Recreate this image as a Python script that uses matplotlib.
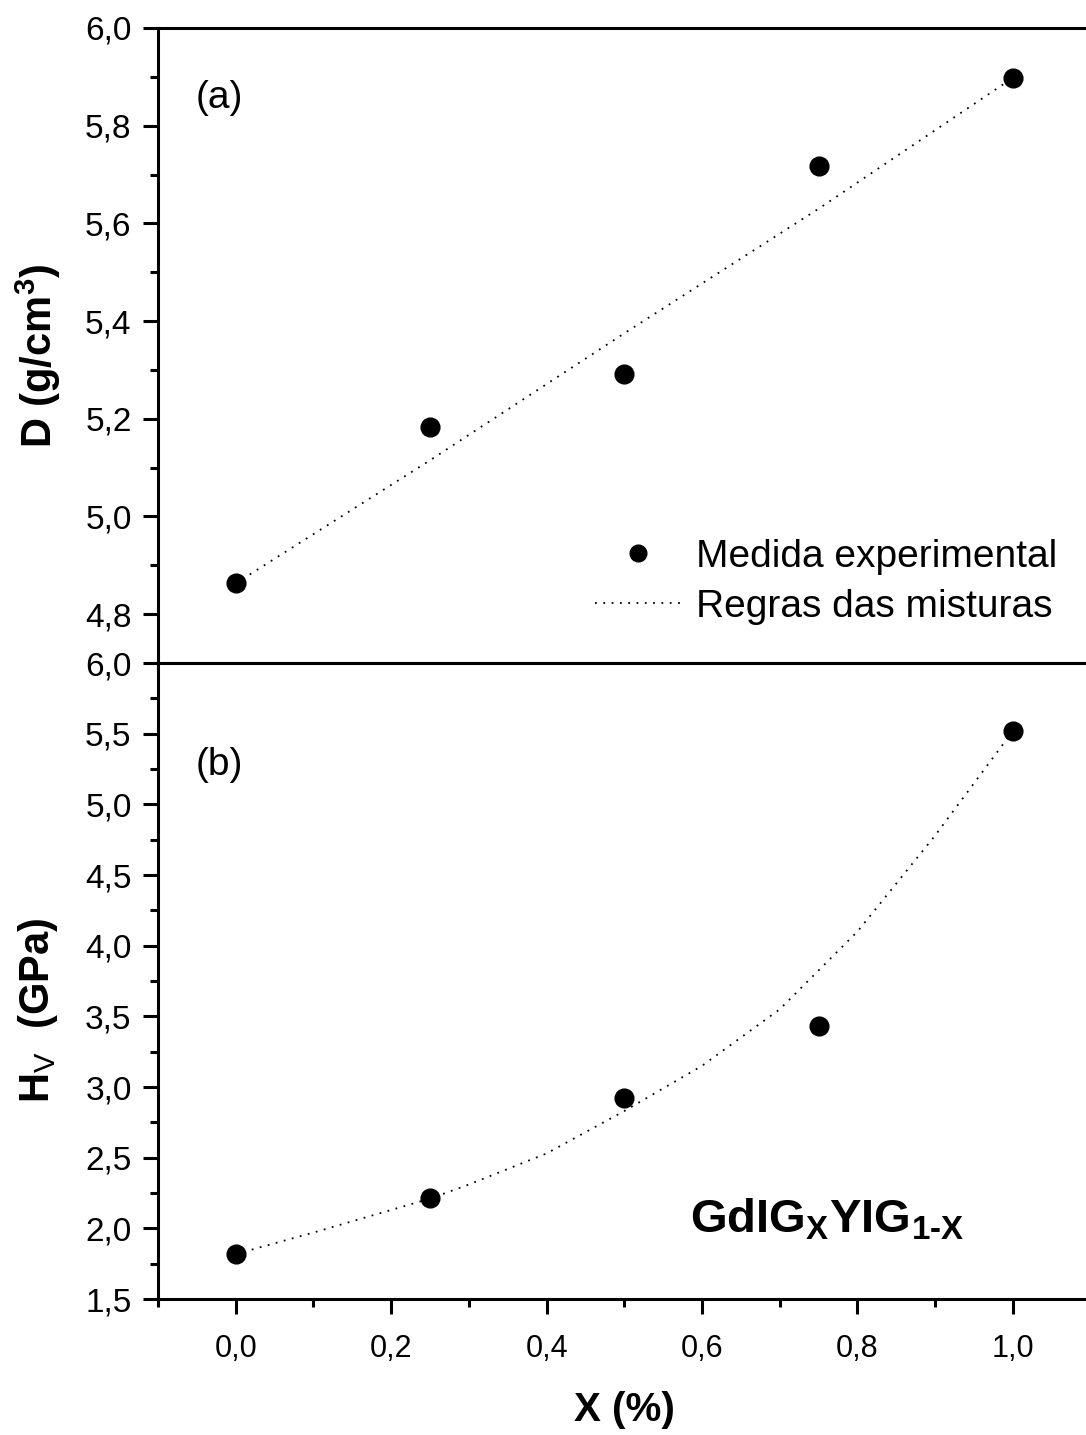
import numpy as np
import matplotlib
matplotlib.use('Agg')
import matplotlib.pyplot as plt
from matplotlib.ticker import MultipleLocator, FuncFormatter
from matplotlib.lines import Line2D

plt.rcParams['font.family'] = ['Liberation Sans', 'DejaVu Sans']
plt.rcParams['mathtext.fontset'] = 'custom'
plt.rcParams['mathtext.rm'] = 'Liberation Sans'
plt.rcParams['mathtext.bf'] = 'Liberation Sans:bold'
plt.rcParams['mathtext.it'] = 'Liberation Sans:italic'

# measured points
x_exp = [0.0, 0.25, 0.5, 0.75, 1.0]
dens_exp = [4.863, 5.183, 5.291, 5.717, 5.898]
hv_exp = [1.818, 2.215, 2.922, 3.432, 5.519]

# rule of mixtures curves
x_mix_d = [0.0, 0.25, 0.5, 0.75, 1.0]
dens_mix = [4.863, 5.115, 5.375, 5.63, 5.898]
x_mix_h = [0.0, 0.1, 0.2, 0.25, 0.3, 0.4, 0.5, 0.6, 0.7, 0.8, 0.9, 1.0]
hv_mix = [1.818, 1.97, 2.13, 2.21, 2.31, 2.53, 2.83, 3.15, 3.55, 4.10, 4.78, 5.519]

W, H = 1086, 1435
fig = plt.figure(figsize=(W / 100, H / 100), dpi=100)

left = 158 / W
width = (1090.6 - 158) / W
ax1 = fig.add_axes([left, 1 - 663 / H, width, (663 - 28) / H])
ax2 = fig.add_axes([left, 1 - 1299 / H, width, (1299 - 663) / H])

comma = FuncFormatter(lambda v, p: ('%.1f' % v).replace('.', ','))
dots = (0, (1, 3.6))

for ax in (ax1, ax2):
    ax.set_xlim(-0.1, 1.1)
    ax.xaxis.set_major_locator(MultipleLocator(0.2))
    ax.xaxis.set_minor_locator(MultipleLocator(0.1))
    ax.xaxis.set_major_formatter(comma)
    ax.yaxis.set_major_formatter(comma)
    ax.tick_params(which='major', direction='out', length=11, width=2.2)
    ax.tick_params(which='minor', direction='out', length=6, width=2.2)
    ax.tick_params(axis='y', pad=8, labelsize=24)
    ax.tick_params(axis='x', pad=14, labelsize=22)
    for s in ax.spines.values():
        s.set_linewidth(2.2)

# (a) density
ax1.set_ylim(4.7, 6.0)
ax1.yaxis.set_major_locator(MultipleLocator(0.2))
ax1.yaxis.set_minor_locator(MultipleLocator(0.1))
ax1.tick_params(axis='x', labelbottom=False)
ax1.plot(x_mix_d, dens_mix, color='black', lw=1.3, linestyle=dots)
ax1.plot(x_exp, dens_exp, 'o', color='black', markersize=13.5)
ax1.text(0.04, 0.89, '(a)', transform=ax1.transAxes, fontsize=28, ha='left', va='center')

handles = [Line2D([], [], marker='o', color='black', linestyle='none', markersize=12),
           Line2D([], [], color='black', lw=1.3, linestyle=dots)]
ax1.legend(handles, ['Medida experimental', 'Regras das misturas'], loc='lower right',
           bbox_to_anchor=(0.985, 0.03), frameon=False, fontsize=28, handlelength=2.2,
           handletextpad=0.4, labelspacing=0.35, borderpad=0)

# (b) hardness
ax2.set_ylim(1.5, 6.0)
ax2.yaxis.set_major_locator(MultipleLocator(0.5))
ax2.yaxis.set_minor_locator(MultipleLocator(0.25))
ax2.plot(x_mix_h, hv_mix, color='black', lw=1.3, linestyle=dots)
ax2.plot(x_exp, hv_exp, 'o', color='black', markersize=13.5)
ax2.text(0.04, 0.84, '(b)', transform=ax2.transAxes, fontsize=28, ha='left', va='center')
ax2.text(690 / W, 1 - 1220 / H, r'GdIG$_{\mathbf{X}}$YIG$_{\mathbf{1‐X}}$', transform=fig.transFigure,
         fontsize=34, fontweight='bold', ha='left', va='center')

fig.text(38 / W, 1 - 356 / H, r'D (g/cm$^{\mathbf{3}}$)', rotation=90, fontsize=30,
         fontweight='bold', ha='center', va='center')
fig.text(38 / W, 1 - 1010 / H, r'H$_{\mathrm{V}}$  (GPa)', rotation=90, fontsize=30,
         fontweight='bold', ha='center', va='center')
fig.text(624 / W, 1 - 1410 / H, 'X (%)', fontsize=29, fontweight='bold', ha='center', va='center')

fig.savefig('out.png', dpi=100)
